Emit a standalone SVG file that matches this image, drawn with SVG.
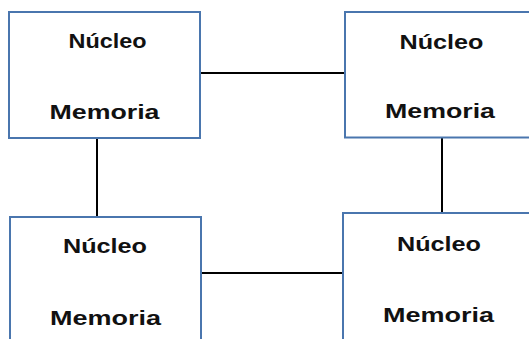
<svg xmlns="http://www.w3.org/2000/svg" width="529" height="339" viewBox="0 0 529 339">
<style>
.box{fill:#ffffff;stroke:#4a76ae;stroke-width:2}
.lbl{font-family:"Liberation Sans",Arial,sans-serif;font-weight:bold;font-size:21px;fill:#111111;text-anchor:middle}
.conn{stroke:#000000;stroke-width:2;fill:none}
</style>
<rect width="529" height="339" fill="#ffffff"/>
<g id="connectors">
<line class="conn" x1="200" y1="73" x2="345" y2="73"/>
<line class="conn" x1="97" y1="138" x2="97" y2="217"/>
<line class="conn" x1="442" y1="137" x2="442" y2="213"/>
<line class="conn" x1="201" y1="273" x2="343" y2="273"/>
</g>
<g id="node1">
<rect class="box" x="9" y="12" width="191" height="126"/>
<text class="lbl" x="107.5" y="48" textLength="78" lengthAdjust="spacingAndGlyphs">Núcleo</text>
<text class="lbl" x="104.5" y="119" textLength="110" lengthAdjust="spacingAndGlyphs">Memoria</text>
</g>
<g id="node2">
<rect class="box" x="345" y="12" width="200" height="125.5"/>
<text class="lbl" x="441.5" y="49" textLength="84" lengthAdjust="spacingAndGlyphs">Núcleo</text>
<text class="lbl" x="440" y="118" textLength="110" lengthAdjust="spacingAndGlyphs">Memoria</text>
</g>
<g id="node3">
<rect class="box" x="10" y="217" width="191" height="140"/>
<text class="lbl" x="105" y="253" textLength="84" lengthAdjust="spacingAndGlyphs">Núcleo</text>
<text class="lbl" x="105.5" y="325" textLength="111" lengthAdjust="spacingAndGlyphs">Memoria</text>
</g>
<g id="node4">
<rect class="box" x="343" y="213" width="200" height="140"/>
<text class="lbl" x="439" y="251" textLength="84" lengthAdjust="spacingAndGlyphs">Núcleo</text>
<text class="lbl" x="438.5" y="321.5" textLength="111" lengthAdjust="spacingAndGlyphs">Memoria</text>
</g>
</svg>
